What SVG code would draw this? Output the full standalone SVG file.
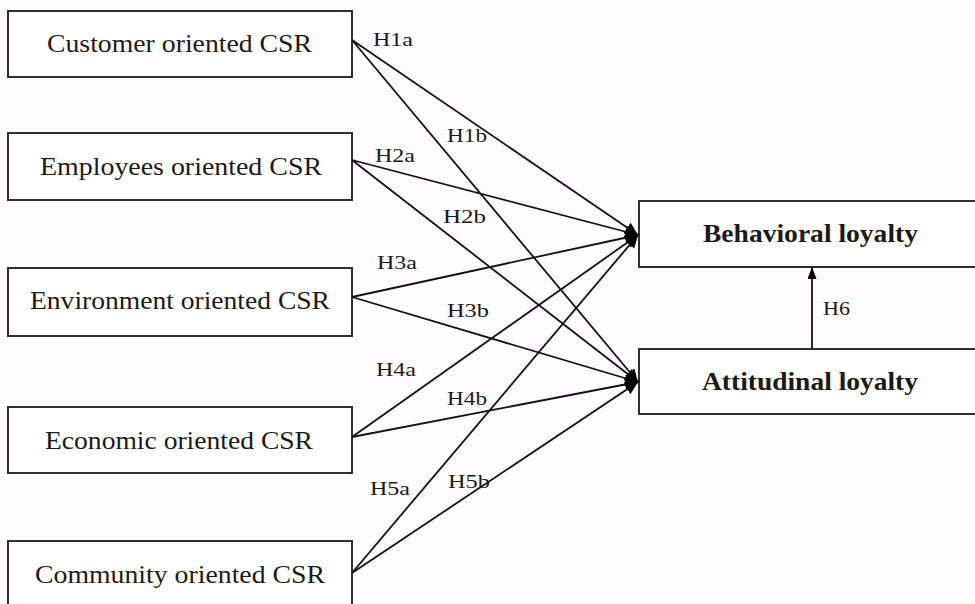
<svg xmlns="http://www.w3.org/2000/svg" width="975" height="604" viewBox="0 0 975 604">
<style>
.box{fill:#ffffff;stroke:#1a1a1a;stroke-width:1.8}
.t{font-family:"Liberation Serif","Times New Roman",serif;font-size:25px;fill:#1a1a1a}
.b{font-weight:bold}
.lbl{font-family:"Liberation Serif","Times New Roman",serif;font-size:19px;fill:#1a1a1a}
.c{stroke:#111;stroke-width:1.8;fill:none}
</style>
<defs>
<marker id="ah" markerUnits="userSpaceOnUse" markerWidth="16" markerHeight="14" refX="13" refY="6" orient="auto">
<path d="M0,0 L13,6 L0,12 Z" fill="#000"/>
</marker>
<marker id="ah6" markerUnits="userSpaceOnUse" markerWidth="14" markerHeight="10" refX="12" refY="4.5" orient="auto">
<path d="M0,0 L12,4.5 L0,9 Z" fill="#000"/>
</marker>
</defs>
<rect x="0" y="0" width="975" height="604" fill="#fefcfe"/>
<g id="connectors">
<line class="c" x1="352" y1="40" x2="638" y2="235" marker-end="url(#ah)"/>
<line class="c" x1="352" y1="40" x2="638" y2="382" marker-end="url(#ah)"/>
<line class="c" x1="352" y1="160" x2="638" y2="235" marker-end="url(#ah)"/>
<line class="c" x1="352" y1="160" x2="638" y2="382" marker-end="url(#ah)"/>
<line class="c" x1="352" y1="297" x2="638" y2="235" marker-end="url(#ah)"/>
<line class="c" x1="352" y1="297" x2="638" y2="382" marker-end="url(#ah)"/>
<line class="c" x1="352" y1="437" x2="638" y2="235" marker-end="url(#ah)"/>
<line class="c" x1="352" y1="437" x2="638" y2="382" marker-end="url(#ah)"/>
<line class="c" x1="352" y1="573" x2="638" y2="235" marker-end="url(#ah)"/>
<line class="c" x1="352" y1="573" x2="638" y2="382" marker-end="url(#ah)"/>
<line class="c" x1="812" y1="349" x2="812" y2="267" marker-end="url(#ah6)"/>
<text class="lbl" x="373" y="46" textLength="40" lengthAdjust="spacingAndGlyphs">H1a</text>
<text class="lbl" x="447" y="142" textLength="40" lengthAdjust="spacingAndGlyphs">H1b</text>
<text class="lbl" x="375" y="162" textLength="40" lengthAdjust="spacingAndGlyphs">H2a</text>
<text class="lbl" x="443" y="223" textLength="43" lengthAdjust="spacingAndGlyphs">H2b</text>
<text class="lbl" x="377" y="269" textLength="40" lengthAdjust="spacingAndGlyphs">H3a</text>
<text class="lbl" x="447" y="317" textLength="42" lengthAdjust="spacingAndGlyphs">H3b</text>
<text class="lbl" x="376" y="376" textLength="40" lengthAdjust="spacingAndGlyphs">H4a</text>
<text class="lbl" x="447" y="405" textLength="40" lengthAdjust="spacingAndGlyphs">H4b</text>
<text class="lbl" x="370" y="495" textLength="40" lengthAdjust="spacingAndGlyphs">H5a</text>
<text class="lbl" x="448" y="488" textLength="42" lengthAdjust="spacingAndGlyphs">H5b</text>
<text class="lbl" x="823" y="315" textLength="27" lengthAdjust="spacingAndGlyphs">H6</text>
</g>
<g id="customer">
<rect class="box" x="8" y="11" width="344" height="66"/>
<text class="t" x="47" y="52" textLength="265" lengthAdjust="spacingAndGlyphs">Customer oriented CSR</text>
</g>
<g id="employees">
<rect class="box" x="8" y="133" width="344" height="67"/>
<text class="t" x="40" y="175" textLength="282" lengthAdjust="spacingAndGlyphs">Employees oriented CSR</text>
</g>
<g id="environment">
<rect class="box" x="8" y="268" width="344" height="68"/>
<text class="t" x="30" y="309" textLength="300" lengthAdjust="spacingAndGlyphs">Environment oriented CSR</text>
</g>
<g id="economic">
<rect class="box" x="8" y="407" width="344" height="66"/>
<text class="t" x="45" y="449" textLength="268" lengthAdjust="spacingAndGlyphs">Economic oriented CSR</text>
</g>
<g id="community">
<rect class="box" x="8" y="541" width="344" height="70"/>
<text class="t" x="35" y="583" textLength="290" lengthAdjust="spacingAndGlyphs">Community oriented CSR</text>
</g>
<g id="behavioral">
<rect class="box" x="639" y="201" width="345" height="66"/>
<text class="t b" x="703" y="242" textLength="215" lengthAdjust="spacingAndGlyphs">Behavioral loyalty</text>
</g>
<g id="attitudinal">
<rect class="box" x="639" y="349" width="345" height="65"/>
<text class="t b" x="702" y="390" textLength="216" lengthAdjust="spacingAndGlyphs">Attitudinal loyalty</text>
</g>
</svg>
